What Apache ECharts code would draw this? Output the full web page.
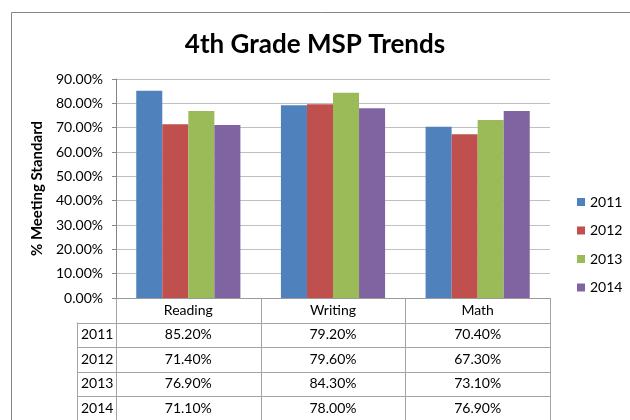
<!DOCTYPE html>
<html>
<head>
<meta charset="utf-8">
<script src="https://cdn.jsdelivr.net/npm/echarts@6/dist/echarts.min.js"></script>
<style>
  html, body { margin: 0; padding: 0; background: #fff; }
  #main { width: 630px; height: 420px; }
</style>
</head>
<body>
<div id="main"></div>
<script>
var categories = ['Reading', 'Writing', 'Math'];
var years = ['2011', '2012', '2013', '2014'];
var v2011 = [85.2, 79.2, 70.4];
var v2012 = [71.4, 79.6, 67.3];
var v2013 = [76.9, 84.3, 73.1];
var v2014 = [71.1, 78.0, 76.9];
var colors = ['#4F81BD', '#C0504D', '#9BBB59', '#8064A2'];
var font = 'Lato';

function pct(v) {
    return v.toFixed(2) + '%';
}

var myChart = echarts.init(document.getElementById('main'));
var allValues = [v2011, v2012, v2013, v2014];

var series = [];
for (var i = 0; i < years.length; i++) {
    series.push({
        name: years[i],
        type: 'bar',
        data: allValues[i],
        barGap: 0,
        barCategoryGap: '28%',
        itemStyle: { color: colors[i] }
    });
}

myChart.setOption({
    animation: false,
    color: colors,
    textStyle: { fontFamily: font },
    title: {
        text: '4th Grade MSP Trends',
        left: 'center',
        top: 27,
        textStyle: { fontFamily: font, fontSize: 26, fontWeight: 'bold', color: '#000' }
    },
    legend: {
        orient: 'vertical',
        left: 572,
        top: 190,
        itemWidth: 8,
        itemHeight: 8,
        itemGap: 14.5,
        icon: 'rect',
        textStyle: { fontFamily: font, fontSize: 14, color: '#000' },
        data: years
    },
    grid: { left: 116, right: 80, top: 79, bottom: 122 },
    xAxis: {
        type: 'category',
        data: categories,
        axisLine: { lineStyle: { color: '#9a9a9a' } },
        axisTick: { show: false },
        axisLabel: { show: false }
    },
    yAxis: {
        type: 'value',
        min: 0,
        max: 90,
        interval: 10,
        name: '% Meeting Standard',
        nameLocation: 'middle',
        nameGap: 60,
        nameTextStyle: { fontFamily: font, fontSize: 15, fontWeight: 'bold', color: '#000' },
        axisLine: { show: true, lineStyle: { color: '#868686' } },
        axisTick: { show: true, length: 4, lineStyle: { color: '#868686' } },
        axisLabel: {
            fontFamily: font, fontSize: 14, color: '#000', margin: 13,
            formatter: function (v) { return pct(v); }
        },
        splitLine: { lineStyle: { color: '#c0c0c0' } }
    },
    series: series
});

// data table under the plot
var centers = categories.map(function (c) {
    return myChart.convertToPixel({ xAxisIndex: 0 }, c);
});
var band = centers[1] - centers[0];
var leftX = centers[0] - band / 2;
var rightX = centers[centers.length - 1] + band / 2;
var y0 = myChart.convertToPixel({ yAxisIndex: 0 }, 0);
var rowH = 24.5;
var labelX = leftX - 39;
var bottomY = y0 + rowH * 5;
var lineStyle = { stroke: '#a5a5a5', lineWidth: 1 };
var g = [];

g.push({
    type: 'rect',
    shape: { x: 11.5, y: 12.5, width: 700, height: 600 },
    style: { fill: 'none', stroke: '#868686', lineWidth: 1 }
});

for (var k = 0; k <= categories.length; k++) {
    var x = Math.round(leftX + band * k) + 0.5;
    g.push({ type: 'line', shape: { x1: x, y1: y0, x2: x, y2: bottomY }, style: lineStyle });
}
g.push({ type: 'line', shape: { x1: Math.round(labelX) + 0.5, y1: y0 + rowH, x2: Math.round(labelX) + 0.5, y2: bottomY }, style: lineStyle });
for (var r = 1; r <= 5; r++) {
    var yy = Math.round(y0 + rowH * r) + 0.5;
    g.push({ type: 'line', shape: { x1: labelX, y1: yy, x2: rightX, y2: yy }, style: lineStyle });
}

var cellFont = '14px ' + font;
categories.forEach(function (c, j) {
    g.push({
        type: 'text', x: centers[j], y: y0 + rowH / 2,
        style: { text: c, font: cellFont, fill: '#000', align: 'center', verticalAlign: 'middle' }
    });
});
years.forEach(function (yr, i) {
    var cy = y0 + rowH * (i + 1.5);
    g.push({
        type: 'text', x: labelX + 4, y: cy,
        style: { text: yr, font: cellFont, fill: '#000', align: 'left', verticalAlign: 'middle' }
    });
    allValues[i].forEach(function (v, j) {
        g.push({
            type: 'text', x: centers[j], y: cy,
            style: { text: pct(v), font: cellFont, fill: '#000', align: 'center', verticalAlign: 'middle' }
        });
    });
});

myChart.setOption({ graphic: g });
</script>
</body>
</html>
